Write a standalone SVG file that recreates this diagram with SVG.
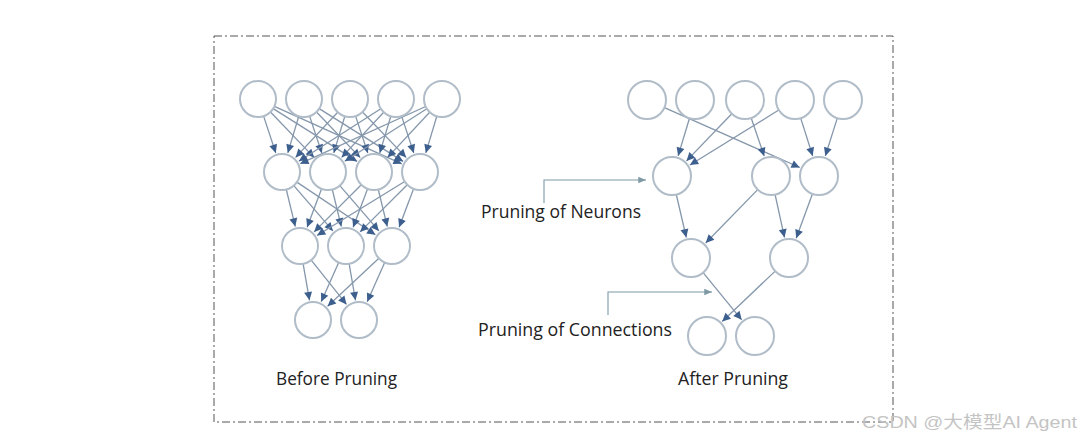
<svg xmlns="http://www.w3.org/2000/svg" width="1080" height="437" viewBox="0 0 1080 437">
<style>
.n{fill:#fff;stroke:#b0bcc8;stroke-width:2}
.e{stroke:#8597ab;stroke-width:1.3;fill:none;marker-end:url(#ah)}
.c{stroke:#7f9aa6;stroke-width:1.1;fill:none;marker-end:url(#ch)}
.t{font-family:"Open Sans","Liberation Sans",sans-serif;font-size:17.5px;fill:#222}
.w{font-family:"Liberation Sans","Noto Sans CJK SC",sans-serif;font-size:17px;fill:#c4c4c4}
</style>
<defs>
<marker id="ah" markerUnits="userSpaceOnUse" markerWidth="10" markerHeight="10" viewBox="-8 -4 9 8" refX="0" refY="0" orient="auto" overflow="visible">
<path d="M0,0 L-7.5,-3.6 L-7.5,3.6 z" fill="#3d5f8e"/>
</marker>
<marker id="ch" markerUnits="userSpaceOnUse" markerWidth="10" markerHeight="10" viewBox="-8 -4 9 8" refX="0" refY="0" orient="auto" overflow="visible">
<path d="M0,0 L-7,-3 L-7,3 z" fill="#7f9aa6"/>
</marker>
</defs>
<rect x="214" y="36" width="679" height="386" fill="none" stroke="#555" stroke-width="1" stroke-dasharray="8,3,2,3"/>
<g id="connectors">
<!-- before: L1->L2 -->
<line class="e" x1="263.6" y1="116.1" x2="275.8" y2="153.0"/>
<line class="e" x1="270.5" y1="112.0" x2="314.2" y2="157.6"/>
<line class="e" x1="273.2" y1="108.6" x2="357.1" y2="161.4"/>
<line class="e" x1="274.4" y1="106.4" x2="401.8" y2="163.8"/>
<line class="e" x1="298.8" y1="116.2" x2="287.8" y2="152.9"/>
<line class="e" x1="309.6" y1="116.1" x2="321.8" y2="153.0"/>
<line class="e" x1="316.5" y1="112.0" x2="360.2" y2="157.6"/>
<line class="e" x1="319.2" y1="108.6" x2="403.1" y2="161.4"/>
<line class="e" x1="337.7" y1="112.2" x2="295.6" y2="157.4"/>
<line class="e" x1="344.8" y1="116.2" x2="333.8" y2="152.9"/>
<line class="e" x1="355.6" y1="116.1" x2="367.8" y2="153.0"/>
<line class="e" x1="362.5" y1="112.0" x2="406.2" y2="157.6"/>
<line class="e" x1="380.8" y1="108.7" x2="298.8" y2="161.2"/>
<line class="e" x1="383.7" y1="112.2" x2="341.6" y2="157.4"/>
<line class="e" x1="390.8" y1="116.2" x2="379.8" y2="152.9"/>
<line class="e" x1="401.6" y1="116.1" x2="413.8" y2="153.0"/>
<line class="e" x1="425.6" y1="106.5" x2="300.2" y2="163.7"/>
<line class="e" x1="426.8" y1="108.7" x2="344.8" y2="161.2"/>
<line class="e" x1="429.7" y1="112.2" x2="387.6" y2="157.4"/>
<line class="e" x1="436.8" y1="116.2" x2="425.8" y2="152.9"/>
<!-- before: L2->L3 -->
<line class="e" x1="286.3" y1="189.5" x2="295.3" y2="226.6"/>
<line class="e" x1="293.8" y1="185.6" x2="332.9" y2="230.9"/>
<line class="e" x1="296.9" y1="182.1" x2="375.4" y2="234.8"/>
<line class="e" x1="321.6" y1="188.8" x2="307.1" y2="227.3"/>
<line class="e" x1="332.3" y1="189.5" x2="341.3" y2="226.6"/>
<line class="e" x1="339.8" y1="185.6" x2="378.9" y2="230.9"/>
<line class="e" x1="361.3" y1="184.7" x2="314.1" y2="231.9"/>
<line class="e" x1="367.6" y1="188.8" x2="353.1" y2="227.3"/>
<line class="e" x1="378.3" y1="189.5" x2="387.3" y2="226.6"/>
<line class="e" x1="404.7" y1="181.5" x2="317.0" y2="235.5"/>
<line class="e" x1="407.3" y1="184.7" x2="360.1" y2="231.9"/>
<line class="e" x1="413.6" y1="188.8" x2="399.1" y2="227.3"/>
<!-- before: L3->L4 -->
<line class="e" x1="303.1" y1="263.7" x2="309.5" y2="300.3"/>
<line class="e" x1="311.2" y1="260.1" x2="346.5" y2="304.4"/>
<line class="e" x1="338.7" y1="262.4" x2="321.2" y2="301.7"/>
<line class="e" x1="349.1" y1="263.7" x2="355.5" y2="300.3"/>
<line class="e" x1="378.9" y1="258.3" x2="327.6" y2="306.3"/>
<line class="e" x1="384.7" y1="262.4" x2="367.2" y2="301.7"/>
<!-- after -->
<line class="e" x1="664.4" y1="107.7" x2="799.8" y2="167.5"/>
<line class="e" x1="689.5" y1="118.2" x2="678.1" y2="155.9"/>
<line class="e" x1="731.8" y1="113.7" x2="686.5" y2="160.9"/>
<line class="e" x1="751.2" y1="118.0" x2="764.2" y2="156.1"/>
<line class="e" x1="778.8" y1="110.0" x2="689.9" y2="165.0"/>
<line class="e" x1="800.7" y1="118.1" x2="812.7" y2="156.0"/>
<line class="e" x1="837.3" y1="118.1" x2="825.3" y2="156.0"/>
<line class="e" x1="676.3" y1="194.5" x2="686.3" y2="237.5"/>
<line class="e" x1="757.7" y1="189.6" x2="705.7" y2="243.0"/>
<line class="e" x1="775.1" y1="194.6" x2="784.5" y2="237.5"/>
<line class="e" x1="812.5" y1="193.8" x2="796.2" y2="238.3"/>
<line class="e" x1="703.1" y1="272.7" x2="741.7" y2="319.8"/>
<line class="e" x1="775.2" y1="271.1" x2="722.2" y2="321.5"/>
<!-- callouts -->
<polyline class="c" points="544,203 544,180 646,180"/>
<polyline class="c" points="608,315 608,292 712,292"/>
</g>
<g id="before">
<g id="b1"><circle class="n" cx="258" cy="99" r="18"/><circle class="n" cx="304" cy="99" r="18"/><circle class="n" cx="350" cy="99" r="18"/><circle class="n" cx="396" cy="99" r="18"/><circle class="n" cx="442" cy="99" r="18"/></g>
<g id="b2"><circle class="n" cx="282" cy="172" r="18"/><circle class="n" cx="328" cy="172" r="18"/><circle class="n" cx="374" cy="172" r="18"/><circle class="n" cx="420" cy="172" r="18"/></g>
<g id="b3"><circle class="n" cx="300" cy="246" r="18"/><circle class="n" cx="346" cy="246" r="18"/><circle class="n" cx="392" cy="246" r="18"/></g>
<g id="b4"><circle class="n" cx="313" cy="320" r="18"/><circle class="n" cx="359" cy="320" r="18"/></g>
</g>
<g id="after">
<g id="a1"><circle class="n" cx="647" cy="100" r="19"/><circle class="n" cx="695" cy="100" r="19"/><circle class="n" cx="745" cy="100" r="19"/><circle class="n" cx="795" cy="100" r="19"/><circle class="n" cx="843" cy="100" r="19"/></g>
<g id="a2"><circle class="n" cx="672" cy="176" r="19"/><circle class="n" cx="771" cy="176" r="19"/><circle class="n" cx="819" cy="176" r="19"/></g>
<g id="a3"><circle class="n" cx="691" cy="258" r="19"/><circle class="n" cx="789" cy="258" r="19"/></g>
<g id="a4"><circle class="n" cx="707" cy="336" r="19"/><circle class="n" cx="755" cy="336" r="19"/></g>
</g>
<g id="labels">
<text class="t" x="276" y="385" textLength="121" lengthAdjust="spacingAndGlyphs">Before Pruning</text>
<text class="t" x="678" y="385" textLength="110" lengthAdjust="spacingAndGlyphs">After Pruning</text>
<text class="t" x="481" y="218" textLength="160" lengthAdjust="spacingAndGlyphs">Pruning of Neurons</text>
<text class="t" x="478" y="336" textLength="194" lengthAdjust="spacingAndGlyphs">Pruning of Connections</text>
<text class="w" x="862" y="428" textLength="215" lengthAdjust="spacingAndGlyphs">CSDN @大模型AI Agent</text>
</g>
</svg>
